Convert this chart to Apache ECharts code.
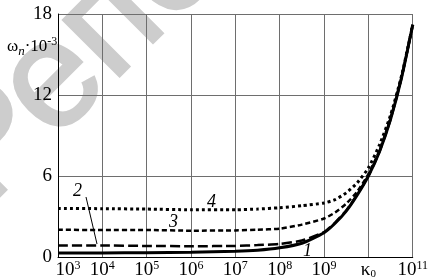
<!DOCTYPE html>
<html>
<head>
<meta charset="utf-8">
<script src="https://cdn.jsdelivr.net/npm/echarts@6/dist/echarts.min.js"></script>
<style>
  html, body { margin: 0; padding: 0; background: #fff; }
  #main { width: 431px; height: 280px; }
</style>
</head>
<body>
<div id="main"></div>
<script>
// lg(kappa) points
var logK = [3, 4, 5, 6, 7, 7.5, 8, 8.5, 9, 9.25, 9.5, 9.75, 10, 10.25, 10.5, 10.75, 11];
// omega_n * 1e-3 for curves 1..4
var curve1 = [0.3, 0.3, 0.32, 0.35, 0.42, 0.5, 0.68, 1.02, 1.8, 2.5, 3.4, 4.6, 6.0, 7.8, 10.2, 13.3, 17.2];
var curve2 = [0.85, 0.85, 0.82, 0.8, 0.82, 0.88, 0.97, 1.22, 1.85, 2.55, 3.45, 4.65, 6.0, 7.8, 10.2, 13.3, 17.2];
var curve3 = [2.02, 2.0, 2.0, 1.95, 1.97, 2.02, 2.1, 2.4, 2.85, 3.3, 3.95, 4.85, 6.15, 7.9, 10.3, 13.35, 17.2];
var curve4 = [3.6, 3.58, 3.55, 3.5, 3.5, 3.55, 3.65, 3.8, 4.0, 4.25, 4.75, 5.5, 6.6, 8.3, 10.5, 13.45, 17.2];
var yTicks = [0, 6, 12, 18];

var serif = 'Liberation Serif';

function pairs(ys) {
    return logK.map(function (k, i) { return [k, ys[i]]; });
}

var myChart = echarts.init(document.getElementById('main'));

var option = {
    animation: false,
    grid: { left: 58, right: 17, top: 14, bottom: 23 },
    xAxis: {
        type: 'value',
        min: 3,
        max: 11,
        interval: 1,
        axisLine: { show: true, lineStyle: { color: '#000', width: 1 } },
        axisTick: { show: false },
        splitLine: { show: true, lineStyle: { color: '#6e6e6e', width: 1 } },
        axisLabel: {
            margin: 3,
            color: '#000',
            formatter: function (v) {
                if (v === 10) return '{k|κ}{k0|0}';
                if (v === 3) return '{sp|}{b|10}{s|3}';
                return '{b|10}{s|' + v + '}';
            },
            rich: {
                b: { fontFamily: serif, fontSize: 19, color: '#000', lineHeight: 20, verticalAlign: 'bottom' },
                s: { fontFamily: serif, fontSize: 12, color: '#000', lineHeight: 20, verticalAlign: 'top' },
                k: { fontFamily: serif, fontSize: 19, color: '#000', lineHeight: 20, verticalAlign: 'bottom' },
                k0: { fontFamily: serif, fontSize: 11, color: '#000', lineHeight: 16, verticalAlign: 'bottom' },
                sp: { width: 20 }
            }
        }
    },
    yAxis: {
        type: 'value',
        min: yTicks[0],
        max: yTicks[yTicks.length - 1],
        interval: 6,
        axisLine: { show: true, lineStyle: { color: '#000', width: 1 } },
        axisTick: { show: false },
        splitLine: { show: true, lineStyle: { color: '#6e6e6e', width: 1 } },
        axisLabel: { margin: 6, color: '#000', fontFamily: serif, fontSize: 19 }
    },
    graphic: [
        {
            type: 'text', z: -10, x: 11, y: 232, rotation: Math.PI / 4,
            style: {
                text: 'Репо', fontFamily: 'Liberation Sans', fontSize: 150,
                fill: '#cdcdcd', stroke: '#cdcdcd', lineWidth: 3, verticalAlign: 'bottom'
            }
        },
        {
            type: 'text', left: 7, top: 36,
            style: {
                text: '{w|ω}{n|n}{b|·10}{s|-3}',
                rich: {
                    w: { fontFamily: serif, fontSize: 17, fill: '#000', lineHeight: 22, verticalAlign: 'middle' },
                    n: { fontFamily: serif, fontStyle: 'italic', fontSize: 13, fill: '#000', lineHeight: 22, verticalAlign: 'bottom' },
                    b: { fontFamily: serif, fontSize: 17, fill: '#000', lineHeight: 22, verticalAlign: 'middle' },
                    s: { fontFamily: serif, fontSize: 12, fill: '#000', lineHeight: 22, verticalAlign: 'top' }
                }
            }
        },
        { type: 'text', x: 73, y: 182, style: { text: '2', fontFamily: serif, fontStyle: 'italic', fontSize: 18, fill: '#000' } },
        { type: 'text', x: 169, y: 213, style: { text: '3', fontFamily: serif, fontStyle: 'italic', fontSize: 18, fill: '#000' } },
        { type: 'text', x: 207, y: 193, style: { text: '4', fontFamily: serif, fontStyle: 'italic', fontSize: 18, fill: '#000' } },
        { type: 'text', x: 303, y: 242, style: { text: '1', fontFamily: serif, fontStyle: 'italic', fontSize: 18, fill: '#000' } },
        { type: 'line', shape: { x1: 86, y1: 197, x2: 97, y2: 244 }, style: { stroke: '#000', lineWidth: 1 } }
    ],
    series: [
        {
            name: '1', type: 'line', showSymbol: false, smooth: 0.2,
            lineStyle: { color: '#000', width: 3, type: 'solid' },
            data: pairs(curve1)
        },
        {
            name: '2', type: 'line', showSymbol: false, smooth: 0.2,
            lineStyle: { color: '#000', width: 2.5, type: [10, 4] },
            data: pairs(curve2)
        },
        {
            name: '3', type: 'line', showSymbol: false, smooth: 0.2,
            lineStyle: { color: '#000', width: 2.5, type: [5, 3] },
            data: pairs(curve3)
        },
        {
            name: '4', type: 'line', showSymbol: false, smooth: 0.2,
            lineStyle: { color: '#000', width: 3, type: [3, 3] },
            data: pairs(curve4)
        }
    ]
};

myChart.setOption(option);
</script>
</body>
</html>
